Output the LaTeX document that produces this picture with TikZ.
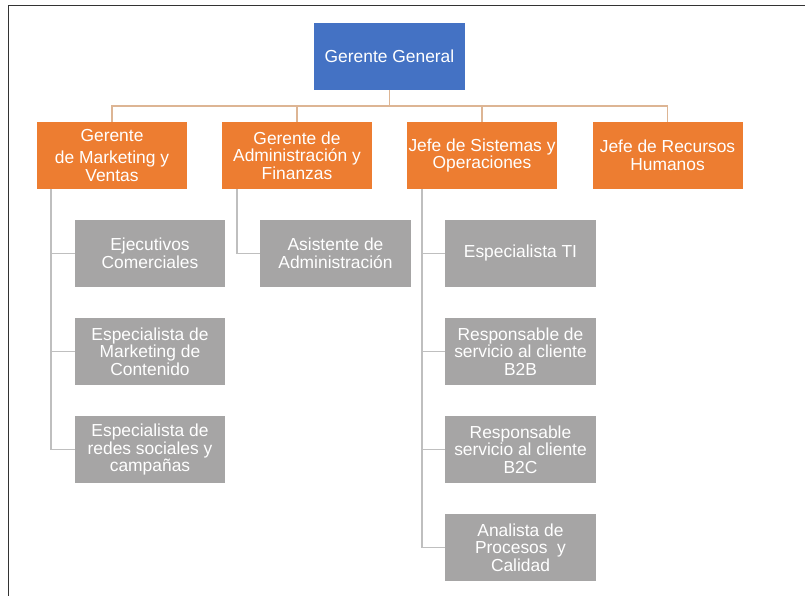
\documentclass[tikz,border=0pt]{standalone}
\usepackage{fontspec}
\setmainfont{Liberation Sans}
\definecolor{gblue}{HTML}{4472C4}
\definecolor{gorange}{HTML}{ED7D31}
\definecolor{ggray}{HTML}{A6A5A5}
\definecolor{toplink}{HTML}{DDB594}
\definecolor{sublink}{HTML}{BFBFBF}
\definecolor{framec}{HTML}{333333}
\begin{document}
\begin{tikzpicture}[x=1pt,y=1pt,
  box/.style={rectangle, minimum width=150pt, minimum height=67pt, inner sep=0pt,
    align=center, text=white, font=\fontsize{17.4}{17.5}\selectfont},
  bluebox/.style={box, fill=gblue, minimum width=151pt},
  orangebox/.style={box, fill=gorange},
  graybox/.style={box, fill=ggray},
  toplinkstyle/.style={draw=toplink, line width=1.8pt},
  sublinkstyle/.style={draw=sublink, line width=1.5pt},
  framestyle/.style={draw=framec, line width=1.5pt}]
\useasboundingbox (0,0) rectangle (805,-596);
\draw[framestyle] (8.5,-596) -- (8.5,-5.5) -- (805,-5.5);

\node[bluebox] (gg) at (389.5,-56.5) {Gerente General};

\node[orangebox] (o1) at (112,-155.5) {Gerente\\[5pt]de Marketing y\\Ventas};
\node[orangebox] (o2) at (297,-155.5) {Gerente de\\Administración y\\Finanzas};
\node[orangebox] (o3) at (482,-155.5) {Jefe de Sistemas y\\Operaciones};
\node[orangebox] (o4) at (667.5,-155.5) {Jefe de Recursos\\Humanos};

\node[graybox] (a1) at (150,-253.5) {Ejecutivos\\Comerciales};
\node[graybox] (a2) at (150,-351.5) {Especialista de\\Marketing de\\Contenido};
\node[graybox] (a3) at (150,-449.5) {Especialista de\\redes sociales y\\campañas};

\node[graybox, minimum width=151pt] (b1) at (335.5,-253.5) {Asistente de\\Administración};

\node[graybox, minimum width=151pt] (c1) at (520.5,-253.5) {Especialista TI};
\node[graybox, minimum width=151pt] (c2) at (520.5,-351.5) {Responsable de\\servicio al cliente\\B2B};
\node[graybox, minimum width=151pt] (c3) at (520.5,-449.5) {Responsable\\servicio al cliente\\B2C};
\node[graybox, minimum width=151pt] (c4) at (520.5,-547.5) {Analista de\\Procesos~ y\\Calidad};

\draw[toplinkstyle] (gg.south) -- ++(0,-16) -| (o1.north);
\draw[toplinkstyle] (gg.south) -- ++(0,-16) -| (o2.north);
\draw[toplinkstyle] (gg.south) -- ++(0,-16) -| (o3.north);
\draw[toplinkstyle] (gg.south) -- ++(0,-16) -| (o4.north);

\draw[sublinkstyle] ([xshift=14pt]o1.south west) |- (a1.west);
\draw[sublinkstyle] ([xshift=14pt]o1.south west) |- (a2.west);
\draw[sublinkstyle] ([xshift=14pt]o1.south west) |- (a3.west);
\draw[sublinkstyle] ([xshift=15pt]o2.south west) |- (b1.west);
\draw[sublinkstyle] ([xshift=15pt]o3.south west) |- (c1.west);
\draw[sublinkstyle] ([xshift=15pt]o3.south west) |- (c2.west);
\draw[sublinkstyle] ([xshift=15pt]o3.south west) |- (c3.west);
\draw[sublinkstyle] ([xshift=15pt]o3.south west) |- (c4.west);
\end{tikzpicture}
\end{document}
